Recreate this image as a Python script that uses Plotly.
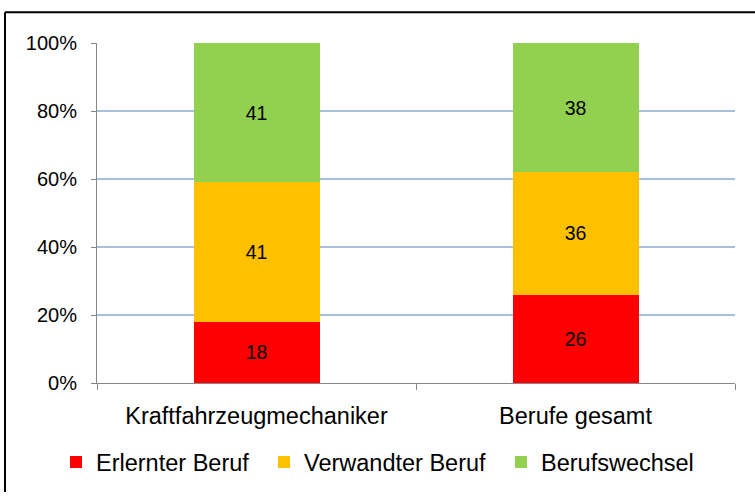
import plotly.graph_objects as go

categories = ["Kraftfahrzeugmechaniker", "Berufe gesamt"]
series_names = ["Erlernter Beruf", "Verwandter Beruf", "Berufswechsel"]
erlernt = [18, 26]
verwandt = [41, 36]
wechsel = [41, 38]
colors = ["#FF0000", "#FFC000", "#92D050"]
y_ticks = [0, 20, 40, 60, 80, 100]
y_tick_labels = ["0%", "20%", "40%", "60%", "80%", "100%"]
legend_widths = [163, 192, 155]

fig = go.Figure()
for name, vals, col, lw in zip(series_names, [erlernt, verwandt, wechsel], colors, legend_widths):
    fig.add_trace(go.Bar(
        x=categories, y=vals, name=name,
        marker=dict(color=col, line=dict(width=0)),
        text=[str(v) for v in vals], textposition="inside",
        insidetextanchor="middle",
        textfont=dict(family="Liberation Sans, Arial", size=19.5, color="black"),
        constraintext="none",
        legendwidth=lw,
    ))

W, H = 755, 496
ml, mr, mt, mb = 97, 20, 43, 110
pw, ph = W - ml - mr, H - mt - mb

def px(x):
    return (x - ml) / pw

def py(y):
    return (H - mb - y) / ph

fig.update_layout(
    width=W, height=H,
    margin=dict(l=ml, r=mr, t=mt, b=mb, pad=0),
    barmode="stack",
    bargap=0.605,
    paper_bgcolor="white", plot_bgcolor="white",
    font=dict(family="Liberation Sans, Arial", size=20, color="black"),
    showlegend=True,
    legend=dict(orientation="h", x=px(56), xanchor="left", y=py(466), yanchor="middle",
                font=dict(size=23.5), itemwidth=30, traceorder="normal",
                bgcolor="rgba(0,0,0,0)"),
    xaxis=dict(showline=True, linecolor="#868686", linewidth=1,
               ticks="outside", tickson="boundaries", ticklen=6, tickcolor="#868686",
               tickfont=dict(size=23.5), showgrid=False, ticklabelstandoff=12),
    yaxis=dict(range=[0, 100], tickvals=y_ticks, ticktext=y_tick_labels,
               showline=True, linecolor="#868686", linewidth=1,
               ticks="outside", ticklen=5, tickcolor="#868686",
               showgrid=True, gridcolor="#A7C0DE", gridwidth=1.5,
               zeroline=False, tickfont=dict(size=20), ticklabelstandoff=10),
    shapes=[
        dict(type="line", xref="paper", yref="paper",
             x0=px(5), x1=px(5), y0=py(496), y1=py(12),
             line=dict(color="black", width=2), layer="below"),
        dict(type="line", xref="paper", yref="paper",
             x0=px(5), x1=px(755), y0=py(12), y1=py(12),
             line=dict(color="black", width=2), layer="below"),
    ],
)

fig.write_html("out.html", config={"displayModeBar": False},
               post_script="document.body.style.margin='0';document.body.style.overflow='hidden';")
